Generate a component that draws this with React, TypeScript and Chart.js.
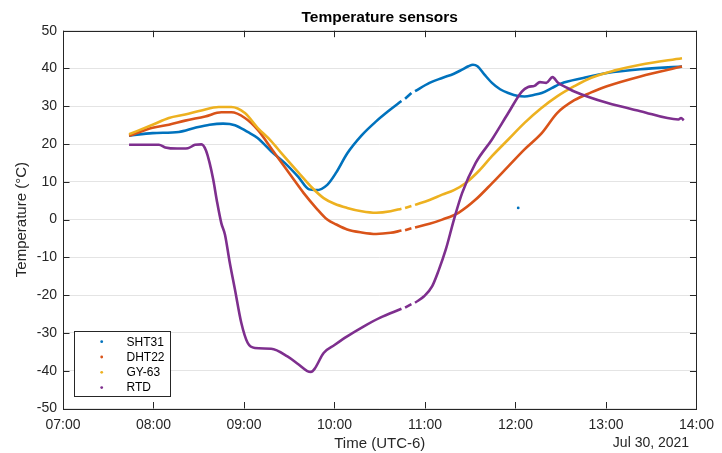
import React, { useEffect, useRef } from "react";
import { Chart, registerables } from "chart.js";

Chart.register(...registerables);

type Pt = [number, number | null];

// hours of day (decimal) and temperature in °C; null marks a data gap
const sht31: Pt[] = [
  [7.73, 22.2], [7.99, 22.9], [8.28, 23.2], [8.46, 24.3], [8.62, 25.1], [8.77, 25.4], [8.9, 25.0],
  [9.04, 23.2], [9.15, 21.6], [9.3, 18.1], [9.45, 15.0], [9.6, 11.3], [9.72, 8.0], [9.8, 7.8],
  [9.92, 9.2], [10.02, 12.5], [10.14, 17.5], [10.3, 22.3], [10.46, 26.0], [10.6, 28.8], [10.74, 31.4],
  [10.76, null], [10.78, 32.0], [10.85, 33.5], [10.87, null], [10.89, 34.0], [11.05, 36.2],
  [11.19, 37.5], [11.32, 38.6], [11.41, 39.7], [11.48, 40.6], [11.53, 41.0], [11.58, 40.6],
  [11.66, 38.3], [11.74, 36.2], [11.83, 34.5], [11.92, 33.5], [12.03, 32.7], [12.1, 32.6],
  [12.2, 33.0], [12.29, 33.5], [12.4, 34.8], [12.5, 36.0], [12.75, 37.5], [13.01, 38.8],
  [13.38, 39.8], [13.84, 40.5],
];
const sht31Outlier: Pt[] = [[12.03, 3.1]];

const dht22: Pt[] = [
  [7.73, 22.2], [7.99, 24.3], [8.17, 25.1], [8.35, 26.2], [8.57, 27.3], [8.75, 28.4], [8.86, 28.4],
  [9.01, 26.9], [9.15, 23.8], [9.3, 18.9], [9.45, 13.9], [9.55, 10.6], [9.66, 7.0], [9.8, 3.0],
  [9.92, 0.0], [10.02, -1.3], [10.14, -2.6], [10.3, -3.4], [10.46, -3.8], [10.62, -3.5],
  [10.74, -2.9], [10.76, null], [10.78, -2.8], [10.85, -2.3], [10.87, null], [10.89, -2.1],
  [11.05, -1.1], [11.19, 0.0], [11.37, 1.8], [11.56, 5.3], [11.74, 9.6], [11.92, 14.1],
  [12.1, 18.6], [12.29, 22.9], [12.46, 28.2], [12.65, 31.6], [12.83, 33.6], [13.01, 35.3],
  [13.38, 37.9], [13.84, 40.5],
];

const gy63: Pt[] = [
  [7.73, 22.6], [7.99, 25.1], [8.17, 26.9], [8.35, 27.8], [8.53, 28.9], [8.72, 29.8], [8.86, 29.8],
  [9.01, 28.2], [9.15, 24.3], [9.3, 20.8], [9.42, 17.4], [9.6, 12.5], [9.75, 8.5], [9.88, 5.7],
  [10.0, 4.2], [10.14, 3.1], [10.3, 2.2], [10.46, 1.8], [10.62, 2.2], [10.74, 2.9], [10.76, null],
  [10.78, 3.1], [10.85, 3.6], [10.87, null], [10.89, 3.9], [11.05, 5.2], [11.19, 6.6],
  [11.32, 7.8], [11.45, 9.7], [11.6, 13.0], [11.74, 16.8], [11.92, 21.2], [12.1, 25.6],
  [12.28, 29.4], [12.46, 32.6], [12.65, 35.3], [12.83, 37.5], [13.1, 39.5], [13.38, 41.0],
  [13.84, 42.7],
];

const rtd: Pt[] = [
  [7.73, 19.8], [8.06, 19.8], [8.13, 19.1], [8.26, 18.8], [8.38, 18.9], [8.46, 19.8], [8.53, 19.9],
  [8.58, 18.3], [8.62, 15.0], [8.66, 10.6], [8.7, 5.0], [8.75, -1.0], [8.79, -4.0], [8.84, -11.0],
  [8.9, -18.5], [8.97, -27.3], [9.04, -32.6], [9.12, -34.0], [9.3, -34.2], [9.48, -36.2],
  [9.6, -38.3], [9.7, -40.1], [9.74, -40.3], [9.78, -39.5], [9.88, -35.3], [10.0, -33.2],
  [10.14, -30.9], [10.32, -28.3], [10.5, -26.0], [10.74, -23.6], [10.76, null], [10.78, -23.3],
  [10.85, -22.4], [10.87, null], [10.89, -22.0], [10.99, -20.3], [11.08, -17.6], [11.15, -13.5],
  [11.23, -7.9], [11.32, 0.0], [11.41, 7.0], [11.56, 15.0], [11.74, 21.2], [11.92, 28.2],
  [12.07, 33.9], [12.14, 35.1], [12.21, 35.4], [12.27, 36.4], [12.34, 36.2], [12.41, 37.7],
  [12.47, 36.2], [12.56, 35.0], [12.65, 33.9], [13.01, 30.9], [13.38, 28.7], [13.8, 26.5],
  [13.83, 26.9], [13.86, 26.3],
];

const seriesLabels = ["SHT31", "DHT22", "GY-63", "RTD"];
const seriesColors = ["#0072BD", "#D95319", "#EDB120", "#7E2F8E"];
const xTicks = [7, 8, 9, 10, 11, 12, 13, 14];
const yTicks = [-50, -40, -30, -20, -10, 0, 10, 20, 30, 40, 50];
const titleText = "Temperature sensors";
const xLabel = "Time (UTC-6)";
const yLabel = "Temperature (°C)";
const dateLabel = "Jul 30, 2021";

const FONT = "'Liberation Sans', Arial, Helvetica, sans-serif";
const AXIS = "#262626";

const toXY = (arr: Pt[]) => arr.map(([x, y]) => ({ x, y }));

const decorPlugin = {
  id: "matlabDecor",
  afterDraw(chart: any) {
    const { ctx, chartArea: a, scales } = chart;
    const xs = scales.x;
    const ys = scales.y;
    ctx.save();
    // box
    ctx.strokeStyle = AXIS;
    ctx.lineWidth = 1;
    ctx.strokeRect(Math.round(a.left) + 0.5, Math.round(a.top) + 0.5,
      Math.round(a.right) - Math.round(a.left), Math.round(a.bottom) - Math.round(a.top));
    const tl = 6.5;
    ctx.beginPath();
    xTicks.forEach((t) => {
      const px = Math.round(xs.getPixelForValue(t)) + 0.5;
      ctx.moveTo(px, a.bottom);
      ctx.lineTo(px, a.bottom - tl);
      ctx.moveTo(px, a.top);
      ctx.lineTo(px, a.top + tl);
    });
    yTicks.forEach((t) => {
      const py = Math.round(ys.getPixelForValue(t)) + 0.5;
      ctx.moveTo(a.left, py);
      ctx.lineTo(a.left + tl, py);
      ctx.moveTo(a.right, py);
      ctx.lineTo(a.right - tl, py);
    });
    ctx.stroke();

    // title
    ctx.fillStyle = "#000";
    ctx.textAlign = "center";
    ctx.textBaseline = "middle";
    ctx.font = `bold 15.5px ${FONT}`;
    ctx.fillText(titleText, (a.left + a.right) / 2, 18);

    // axis labels
    ctx.fillStyle = AXIS;
    ctx.font = `15px ${FONT}`;
    ctx.fillText(xLabel, (a.left + a.right) / 2, 444);
    ctx.save();
    ctx.translate(22, (a.top + a.bottom) / 2);
    ctx.rotate(-Math.PI / 2);
    ctx.fillText(yLabel, 0, 0);
    ctx.restore();
    ctx.font = `14px ${FONT}`;
    ctx.fillText(dateLabel, 651, 443);

    // legend
    const lx = 74, ly = 331, lw = 96, lh = 65;
    ctx.fillStyle = "#fff";
    ctx.fillRect(lx, ly, lw, lh);
    ctx.strokeStyle = AXIS;
    ctx.strokeRect(lx + 0.5, ly + 0.5, lw, lh);
    ctx.font = `12px ${FONT}`;
    ctx.textAlign = "left";
    seriesLabels.forEach((lab, i) => {
      const ry = 341.7 + i * 15.3;
      ctx.fillStyle = seriesColors[i];
      ctx.beginPath();
      ctx.arc(101.7, ry, 1.4, 0, Math.PI * 2);
      ctx.fill();
      ctx.fillStyle = "#000";
      ctx.fillText(lab, 126.5, ry + 0.5);
    });
    ctx.restore();
  },
};

export default function App() {
  const ref = useRef<HTMLCanvasElement | null>(null);
  useEffect(() => {
    if (!ref.current) return;
    const series = [sht31, dht22, gy63, rtd];
    const datasets: any[] = series.map((s, i) => ({
      label: seriesLabels[i],
      data: toXY(s),
      borderColor: seriesColors[i],
      backgroundColor: seriesColors[i],
      borderWidth: 2.6,
      pointRadius: 0,
      cubicInterpolationMode: "monotone",
      spanGaps: false,
      order: 4 - i,
    }));
    datasets.push({
      label: "",
      data: toXY(sht31Outlier),
      borderColor: seriesColors[0],
      backgroundColor: seriesColors[0],
      showLine: false,
      pointRadius: 1.4,
      pointBorderWidth: 0,
      order: 5,
    });
    const chart = new Chart(ref.current, {
      type: "line",
      data: { datasets },
      options: {
        animation: false,
        responsive: true,
        maintainAspectRatio: false,
        layout: { padding: { left: 0, right: 18.5, top: 30.7, bottom: 0 } },
        plugins: { legend: { display: false }, title: { display: false }, tooltip: { enabled: false } },
        scales: {
          x: {
            type: "linear",
            min: 7,
            max: 14,
            afterBuildTicks: (s: any) => { s.ticks = xTicks.map((v) => ({ value: v })); },
            afterFit: (s: any) => { s.height = 44.5; },
            grid: { display: false, drawTicks: false, tickLength: 0 },
            border: { display: false },
            ticks: {
              color: AXIS,
              font: { family: FONT, size: 14 },
              padding: 8,
              maxRotation: 0,
              callback: (v: any) => `${String(v).padStart(2, "0")}:00`,
            },
          },
          y: {
            type: "linear",
            min: -50,
            max: 50,
            afterBuildTicks: (s: any) => { s.ticks = yTicks.map((v) => ({ value: v })); },
            afterFit: (s: any) => { s.width = 63; },
            grid: { color: "#e4e4e4", drawTicks: false, lineWidth: 1 },
            border: { display: false },
            ticks: {
              color: AXIS,
              font: { family: FONT, size: 14 },
              padding: 6,
              callback: (v: any) => `${v}`,
            },
          },
        },
      },
      plugins: [decorPlugin],
    });
    return () => chart.destroy();
  }, []);
  return (
    <div style={{ position: "absolute", left: 0, top: 0, width: 722, height: 453, background: "#fff" }}>
      <canvas ref={ref} />
    </div>
  );
}
